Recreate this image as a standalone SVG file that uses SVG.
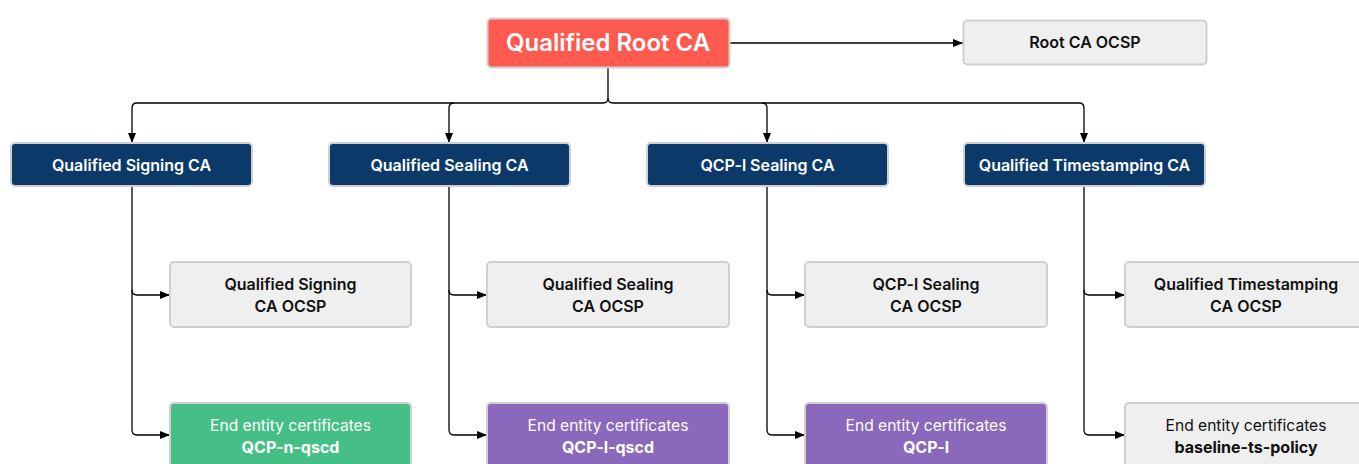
<svg xmlns="http://www.w3.org/2000/svg" width="1359" height="464" viewBox="0 0 1359 464">
<defs>
<marker id="ah" markerWidth="10" markerHeight="8" refX="10" refY="4" orient="auto" markerUnits="userSpaceOnUse">
<path d="M0,0 L10,4 L0,8 Z" fill="#000"/>
</marker>
<style>
.box{stroke:#d0d0d0;stroke-width:2}
.root{fill:#ff5a4f}
.ca{fill:#0b3a6a}
.oc{fill:#efefef}
.gr{fill:#45bf86}
.pu{fill:#8a68bb}
text{font-family:Inter,"Noto Sans","Liberation Sans",sans-serif;text-anchor:middle}
.t1{font-size:24px;font-weight:600;fill:#fff}
.tc{font-size:16px;font-weight:600;fill:#fff}
.to{font-size:16px;font-weight:600;fill:#111}
.tn{font-size:15.6px;font-weight:400}
.tb{font-size:16px;font-weight:700}
.w{fill:#fff}
.k{fill:#111}
.c{fill:none;stroke:#000;stroke-width:1.3}
</style>
</defs>
<g id="connectors">
<path class="c" d="M729,43 H963" marker-end="url(#ah)"/>
<path class="c" d="M608,67 V98 Q608,103 603,103 H137 Q132,103 132,108 V143" marker-end="url(#ah)"/>
<path class="c" d="M608,98 Q608,103 613,103 H1079 Q1084,103 1084,108 V143" marker-end="url(#ah)"/>
<path class="c" d="M454,103 Q449,103 449,108 V143" marker-end="url(#ah)"/>
<path class="c" d="M762,103 Q767,103 767,108 V143" marker-end="url(#ah)"/>
<path class="c" d="M132,186 V290 Q132,295 137,295 H170" marker-end="url(#ah)"/>
<path class="c" d="M132,290 V430 Q132,435 137,435 H170" marker-end="url(#ah)"/>
<path class="c" d="M449,186 V290 Q449,295 454,295 H487" marker-end="url(#ah)"/>
<path class="c" d="M449,290 V430 Q449,435 454,435 H487" marker-end="url(#ah)"/>
<path class="c" d="M767,186 V290 Q767,295 772,295 H805" marker-end="url(#ah)"/>
<path class="c" d="M767,290 V430 Q767,435 772,435 H805" marker-end="url(#ah)"/>
<path class="c" d="M1084,186 V290 Q1084,295 1089,295 H1125" marker-end="url(#ah)"/>
<path class="c" d="M1084,290 V430 Q1084,435 1089,435 H1125" marker-end="url(#ah)"/>
</g>
<g id="root">
<rect class="box root" x="487.5" y="18.5" width="242" height="49" rx="4"/>
<text class="t1" x="608" y="51">Qualified Root CA</text>
</g>
<g id="root-ocsp">
<rect class="box oc" x="963.5" y="20.5" width="243" height="44" rx="4"/>
<text class="to" x="1085" y="48">Root CA OCSP</text>
</g>
<g id="signing-ca">
<rect class="box ca" x="11" y="143" width="241" height="43" rx="4"/>
<text class="tc" x="131.5" y="170.5">Qualified Signing CA</text>
</g>
<g id="sealing-ca">
<rect class="box ca" x="329" y="143" width="241" height="43" rx="4"/>
<text class="tc" x="449.5" y="170.5">Qualified Sealing CA</text>
</g>
<g id="qcpi-ca">
<rect class="box ca" x="647" y="143" width="241" height="43" rx="4"/>
<text class="tc" x="767.5" y="170.5">QCP-l Sealing CA</text>
</g>
<g id="ts-ca">
<rect class="box ca" x="964" y="143" width="241" height="43" rx="4"/>
<text class="tc" x="1084.5" y="170.5">Qualified Timestamping CA</text>
</g>
<g id="signing-ocsp">
<rect class="box oc" x="170" y="262" width="241" height="65" rx="4"/>
<text class="to" x="290.5" y="290">Qualified Signing</text>
<text class="to" x="290.5" y="312">CA OCSP</text>
</g>
<g id="sealing-ocsp">
<rect class="box oc" x="487" y="262" width="242" height="65" rx="4"/>
<text class="to" x="608" y="290">Qualified Sealing</text>
<text class="to" x="608" y="312">CA OCSP</text>
</g>
<g id="qcpi-ocsp">
<rect class="box oc" x="805" y="262" width="242" height="65" rx="4"/>
<text class="to" x="926" y="290">QCP-l Sealing</text>
<text class="to" x="926" y="312">CA OCSP</text>
</g>
<g id="ts-ocsp">
<rect class="box oc" x="1125" y="262" width="242" height="65" rx="4"/>
<text class="to" x="1246" y="290">Qualified Timestamping</text>
<text class="to" x="1246" y="312">CA OCSP</text>
</g>
<g id="signing-ee">
<rect class="box gr" x="170" y="403" width="241" height="70" rx="4"/>
<text class="tn w" x="290.5" y="431">End entity certificates</text>
<text class="tb w" x="290.5" y="453">QCP-n-qscd</text>
</g>
<g id="sealing-ee">
<rect class="box pu" x="487" y="403" width="242" height="70" rx="4"/>
<text class="tn w" x="608" y="431">End entity certificates</text>
<text class="tb w" x="608" y="453">QCP-l-qscd</text>
</g>
<g id="qcpi-ee">
<rect class="box pu" x="805" y="403" width="242" height="70" rx="4"/>
<text class="tn w" x="926" y="431">End entity certificates</text>
<text class="tb w" x="926" y="453">QCP-l</text>
</g>
<g id="ts-ee">
<rect class="box oc" x="1125" y="403" width="242" height="70" rx="4"/>
<text class="tn k" x="1246" y="431">End entity certificates</text>
<text class="tb k" x="1246" y="453">baseline-ts-policy</text>
</g>
</svg>
